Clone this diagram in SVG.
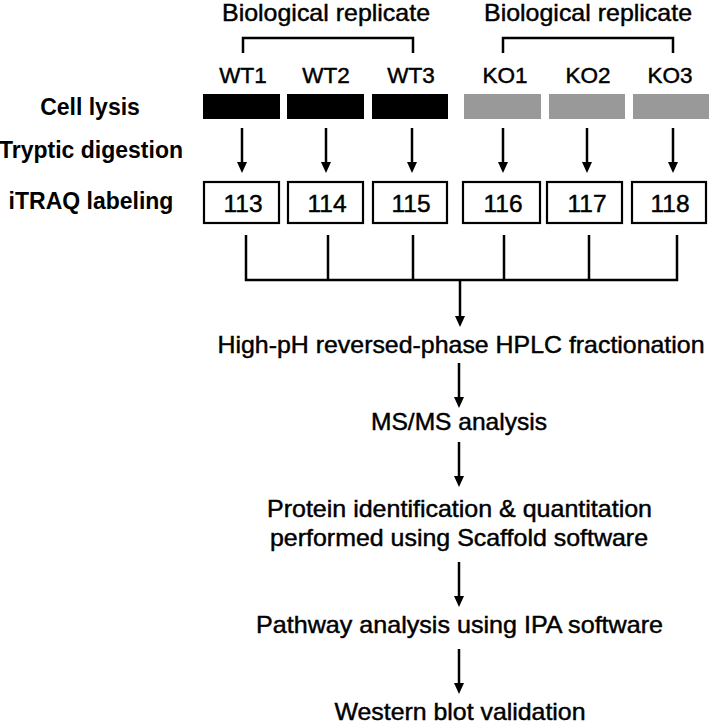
<svg xmlns="http://www.w3.org/2000/svg" width="709" height="724" viewBox="0 0 709 724">
<defs>
<style>
text{font-family:"Liberation Sans",Arial,sans-serif;fill:#000;}
.t{font-size:24px;text-anchor:middle;stroke:#000;stroke-width:0.45;}
.lab{font-size:23px;font-weight:bold;text-anchor:middle;}
.s{font-size:22.5px;text-anchor:middle;stroke:#000;stroke-width:0.45;}
.n{font-size:24.5px;text-anchor:middle;stroke:#000;stroke-width:0.45;}
.ln{stroke:#000;stroke-width:2.5;fill:none;}
.box{fill:#fff;stroke:#000;stroke-width:2.2;}
.wt{fill:#000;}
.ko{fill:#999;}
</style>
<marker id="ad" markerUnits="userSpaceOnUse" markerWidth="12" markerHeight="12" viewBox="0 0 12 12" refX="1" refY="6" orient="auto">
<path d="M0,1 L11,6 L0,11 Z" fill="#000"/>
</marker>
</defs>
<rect width="709" height="724" fill="#fff"/>

<g id="labels">
<text class="lab" x="90" y="115">Cell lysis</text>
<text class="lab" x="91" y="158">Tryptic digestion</text>
<text class="lab" x="91" y="209">iTRAQ labeling</text>
</g>

<g id="rep-wt"><text class="t" x="326" y="21" textLength="208" lengthAdjust="spacingAndGlyphs">Biological replicate</text></g>
<g id="rep-ko"><text class="t" x="588" y="21" textLength="208" lengthAdjust="spacingAndGlyphs">Biological replicate</text></g>

<g id="WT1"><text class="s" x="243" y="83">WT1</text><rect class="wt" x="203" y="94" width="77" height="25"/></g>
<g id="WT2"><text class="s" x="326" y="83">WT2</text><rect class="wt" x="287" y="94" width="77" height="25"/></g>
<g id="WT3"><text class="s" x="411" y="83">WT3</text><rect class="wt" x="372" y="94" width="76" height="25"/></g>
<g id="KO1"><text class="s" x="505" y="83">KO1</text><rect class="ko" x="464" y="94" width="77" height="25"/></g>
<g id="KO2"><text class="s" x="588" y="83">KO2</text><rect class="ko" x="549" y="94" width="76" height="25"/></g>
<g id="KO3"><text class="s" x="670" y="83">KO3</text><rect class="ko" x="633" y="94" width="76" height="25"/></g>

<g id="L113"><rect class="box" x="204" y="182" width="75" height="41"/><text class="n" x="243" y="212">113</text></g>
<g id="L114"><rect class="box" x="288" y="182" width="75" height="41"/><text class="n" x="327" y="212">114</text></g>
<g id="L115"><rect class="box" x="373" y="182" width="74" height="41"/><text class="n" x="411" y="212">115</text></g>
<g id="L116"><rect class="box" x="463" y="182" width="77" height="41"/><text class="n" x="503" y="212">116</text></g>
<g id="L117"><rect class="box" x="547" y="182" width="75" height="41"/><text class="n" x="587" y="212">117</text></g>
<g id="L118"><rect class="box" x="632" y="182" width="74" height="41"/><text class="n" x="670" y="212">118</text></g>

<g id="steps">
<text class="t" x="461" y="353" textLength="487" lengthAdjust="spacingAndGlyphs">High-pH reversed-phase HPLC fractionation</text>
<text class="t" x="459" y="430" textLength="176" lengthAdjust="spacingAndGlyphs">MS/MS analysis</text>
<text class="t" x="459.5" y="517" textLength="385" lengthAdjust="spacingAndGlyphs">Protein identification &amp; quantitation</text>
<text class="t" x="459" y="546" textLength="378" lengthAdjust="spacingAndGlyphs">performed using Scaffold software</text>
<text class="t" x="459.5" y="633" textLength="407" lengthAdjust="spacingAndGlyphs">Pathway analysis using IPA software</text>
<text class="t" x="460" y="720" textLength="251" lengthAdjust="spacingAndGlyphs">Western blot validation</text>
</g>

<g id="connectors">
<path class="ln" d="M243,53 V38 H413 V53"/>
<path class="ln" d="M503,53 V38 H673 V53"/>
<path class="ln" d="M242,128 V163" marker-end="url(#ad)"/>
<path class="ln" d="M326,128 V163" marker-end="url(#ad)"/>
<path class="ln" d="M412,128 V163" marker-end="url(#ad)"/>
<path class="ln" d="M503,128 V163" marker-end="url(#ad)"/>
<path class="ln" d="M587,128 V163" marker-end="url(#ad)"/>
<path class="ln" d="M673,128 V163" marker-end="url(#ad)"/>
<path class="ln" d="M246,235 V280 H677 V235 M328,235 V280 M413,235 V280 M504,235 V280 M589,235 V280"/>
<path class="ln" d="M460,280 V317" marker-end="url(#ad)"/>
<path class="ln" d="M459,363 V398" marker-end="url(#ad)"/>
<path class="ln" d="M459,442 V477" marker-end="url(#ad)"/>
<path class="ln" d="M459,562 V597" marker-end="url(#ad)"/>
<path class="ln" d="M459,649 V684" marker-end="url(#ad)"/>
</g>
</svg>
